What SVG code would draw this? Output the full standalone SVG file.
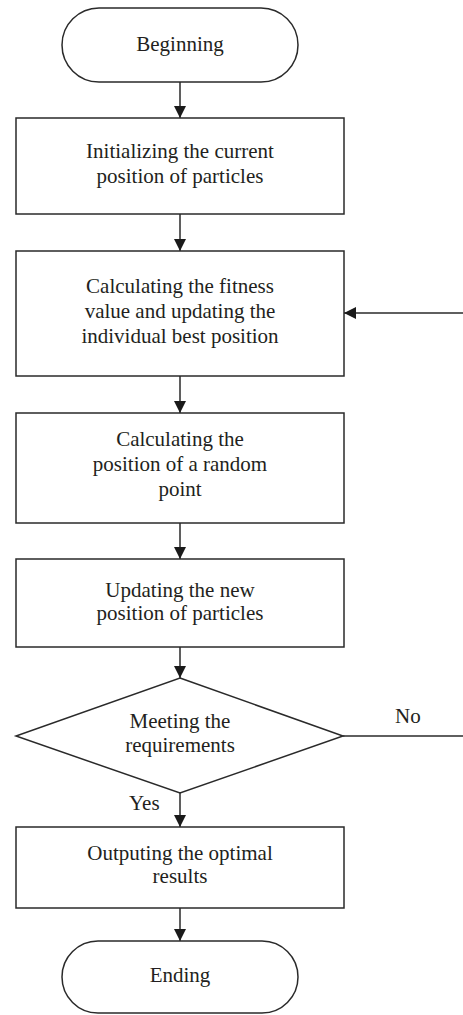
<svg xmlns="http://www.w3.org/2000/svg" width="463" height="1015" viewBox="0 0 463 1015">
<style>
.s{fill:#fff;stroke:#2a2a2a;stroke-width:1.5}
.t{font-family:"Liberation Serif","Times New Roman",serif;font-size:21px;fill:#231f20;text-anchor:middle}
.l{font-family:"Liberation Serif","Times New Roman",serif;font-size:21px;fill:#231f20}
.c{stroke:#2a2a2a;stroke-width:1.5;fill:none}
</style>
<defs>
<marker id="ah" markerWidth="12" markerHeight="12" viewBox="0 0 12 12" refX="12" refY="6" orient="auto" markerUnits="userSpaceOnUse">
<path d="M0,0 L12,6 L0,12 Z" fill="#1a1a1a"/>
</marker>
</defs>
<rect width="463" height="1015" fill="#fff"/>
<g id="connectors">
<line class="c" x1="180" y1="82" x2="180" y2="118" marker-end="url(#ah)"/>
<line class="c" x1="180" y1="214" x2="180" y2="251" marker-end="url(#ah)"/>
<line class="c" x1="463" y1="313" x2="344" y2="313" marker-end="url(#ah)"/>
<line class="c" x1="180" y1="376" x2="180" y2="413" marker-end="url(#ah)"/>
<line class="c" x1="180" y1="523" x2="180" y2="559" marker-end="url(#ah)"/>
<line class="c" x1="180" y1="647" x2="180" y2="678" marker-end="url(#ah)"/>
<line class="c" x1="343" y1="736" x2="463" y2="736"/>
<line class="c" x1="180" y1="793" x2="180" y2="827" marker-end="url(#ah)"/>
<line class="c" x1="180" y1="908" x2="180" y2="941" marker-end="url(#ah)"/>
<text class="l" x="395" y="723">No</text>
<text class="l" x="129" y="810">Yes</text>
</g>
<g id="begin">
<rect class="s" x="62" y="8" width="236" height="74" rx="37" ry="37"/>
<text class="t" x="180" y="51">Beginning</text>
</g>
<g id="init">
<rect class="s" x="16" y="118" width="328" height="96"/>
<text class="t" x="180" y="158">Initializing the current</text>
<text class="t" x="180" y="183">position of particles</text>
</g>
<g id="fitness">
<rect class="s" x="16" y="251" width="328" height="125"/>
<text class="t" x="180" y="293">Calculating the fitness</text>
<text class="t" x="180" y="318">value and updating the</text>
<text class="t" x="180" y="343">individual best position</text>
</g>
<g id="random">
<rect class="s" x="16" y="413" width="328" height="110"/>
<text class="t" x="180" y="446">Calculating the</text>
<text class="t" x="180" y="471">position of a random</text>
<text class="t" x="180" y="496">point</text>
</g>
<g id="update">
<rect class="s" x="16" y="559" width="328" height="88"/>
<text class="t" x="180" y="597">Updating the new</text>
<text class="t" x="180" y="620">position of particles</text>
</g>
<g id="decision">
<polygon class="s" points="180,678 343,736 180,793 16,736"/>
<text class="t" x="180" y="728">Meeting the</text>
<text class="t" x="180" y="752">requirements</text>
</g>
<g id="output">
<rect class="s" x="16" y="827" width="328" height="81"/>
<text class="t" x="180" y="860">Outputing the optimal</text>
<text class="t" x="180" y="883">results</text>
</g>
<g id="end">
<rect class="s" x="62" y="941" width="236" height="72" rx="36" ry="36"/>
<text class="t" x="180" y="982">Ending</text>
</g>
</svg>
